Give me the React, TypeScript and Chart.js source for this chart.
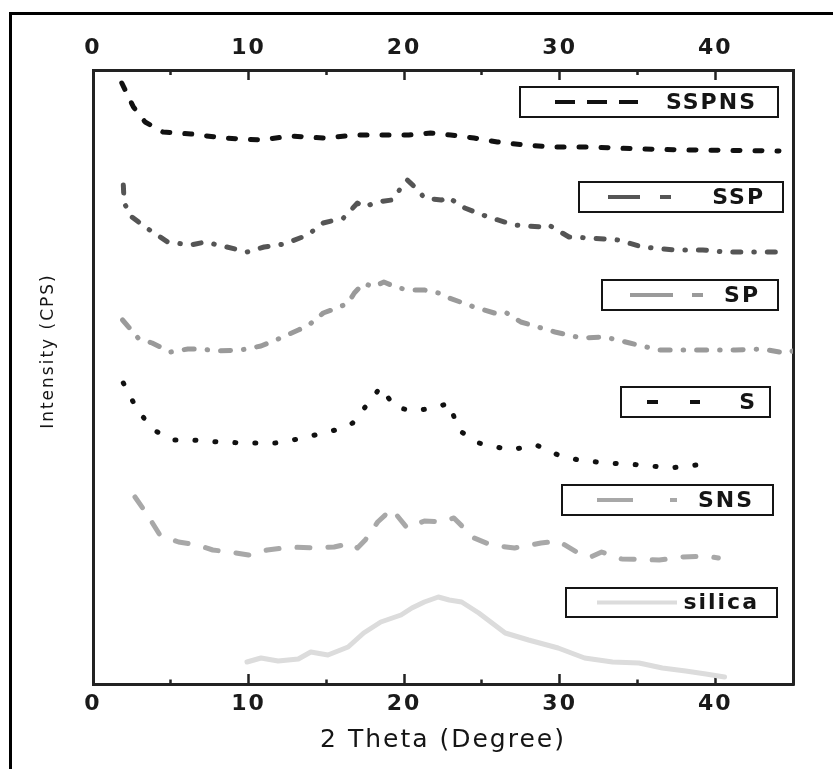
import React, { useEffect, useRef } from 'react';
import { Chart, registerables } from 'chart.js';

Chart.register(...registerables);

// ---- data (2θ in degrees, intensity in arbitrary offset units) ----
const sspnsX = [1.85, 2.6, 3.35, 4.5, 6.3, 8.4, 10.8, 12.7, 14.8, 17, 20.3, 21.7, 23, 24.5, 26, 27.8, 29.5, 32, 35.3, 38.5, 44.1];
const sspnsY = [601, 577, 562, 552, 550, 546, 544, 548, 546, 549, 549, 551, 549, 546, 542, 539, 537, 537, 535, 534, 533];

const sspX = [1.95, 2.0, 2.5, 3.35, 4.8, 6.3, 7.2, 8.6, 9.9, 11, 12.3, 13.8, 14.8, 16.1, 17, 17.4, 18.3, 19.2, 20.2, 20.9, 21.3, 22.4, 22.8, 23.9, 25.4, 27.1, 28.8, 29.3, 30.6, 32, 33.8, 35.3, 37.4, 39.2, 40.6, 42.8, 44.5];
const sspY = [499, 481, 467, 457, 442, 439, 442, 437, 432, 437, 440, 449, 461, 466, 481, 477, 482, 484, 504, 494, 486, 484, 487, 476, 467, 459, 457, 459, 447, 446, 444, 437, 434, 434, 432, 432, 432];

const spX = [1.9, 2.9, 3.8, 5, 6.1, 6.9, 8, 9.5, 10.8, 11.9, 13.2, 13.8, 14.8, 15.7, 16.4, 16.8, 17.4, 18, 18.7, 19.6, 20.5, 21.3, 22.2, 22.9, 24.5, 25.8, 26.5, 27.5, 28.6, 29.7, 31.4, 32.9, 34.5, 36.4, 37.9, 39.6, 41.3, 43, 44.5, 45];
const spY = [364, 346, 341, 332, 335, 335, 333, 334, 338, 345, 354, 358, 371, 376, 381, 391, 401, 397, 402, 396, 394, 394, 391, 386, 377, 371, 372, 362, 357, 352, 346, 347, 341, 334, 334, 334, 334, 335, 331, 333];

const sX = [1.95, 2.85, 3.9, 5.1, 6.4, 8.1, 9.8, 11.7, 13.2, 14.8, 16.1, 16.7, 17.5, 18.5, 19.4, 20.6, 21.9, 22.9, 23.5, 24.8, 26.8, 28.5, 29.9, 31.2, 33, 35.3, 37.1, 38.8];
const sY = [301, 274, 254, 244, 244, 242, 241, 241, 245, 251, 256, 261, 277, 297, 277, 273, 276, 281, 254, 241, 234, 239, 229, 224, 221, 219, 216, 219];

const snsX = [2.7, 3.5, 4.3, 5.5, 6.7, 7.7, 8.8, 10, 11.2, 12.7, 14.2, 15.5, 16.6, 17, 17.5, 18.3, 19.2, 20.2, 21.3, 22.4, 23.2, 24.5, 25.6, 27.1, 28.8, 29.9, 31.2, 32, 32.7, 34, 36.4, 37.9, 39.4, 40.2];
const snsY = [187, 169, 149, 142, 139, 134, 132, 129, 134, 137, 136, 137, 141, 136, 144, 162, 175, 156, 163, 162, 166, 146, 139, 136, 141, 143, 131, 127, 132, 125, 124, 127, 128, 126];

const silicaX = [9.9, 10.8, 11.9, 13.2, 14, 15.1, 16.4, 17.4, 18.5, 19.8, 20.5, 21.3, 22.2, 22.9, 23.7, 24.8, 26.5, 28, 29.9, 31.6, 33.4, 35.1, 36.6, 38.1, 39.4, 40.6];
const silicaY = [22, 26, 23, 25, 32, 29, 37, 51, 62, 69, 76, 82, 87, 84, 82, 71, 51, 44, 36, 26, 22, 21, 16, 13, 10, 7];

const seriesLabels = ['SSPNS', 'SSP', 'SP', 'S', 'SNS', 'silica'];
const xMin = 0;
const xMax = 45;
const xStep = 5;
const yMin = 0;
const yMax = 614;
const xTitle = '2 Theta (Degree)';
const yTitle = 'Intensity (CPS)';

// ---- legend box layout (pixels) ----
const legendLayout = [
  { box: [520, 87, 778, 117], segs: [[555, 575], [587, 607], [619, 638]], textRight: 755 },
  { box: [579, 182, 783, 212], segs: [[608, 640], [660, 671]], textRight: 763 },
  { box: [602, 280, 778, 310], segs: [[630, 673], [692, 703]], textRight: 758 },
  { box: [621, 387, 770, 417], segs: [[647, 658], [690, 700]], textRight: 755 },
  { box: [562, 485, 773, 515], segs: [[597, 633], [670, 677]], textRight: 752 },
  { box: [566, 588, 777, 617], segs: [[597, 677]], textRight: 757 },
];

const FONT = '"DejaVu Sans", "Liberation Sans", sans-serif';

const decorPlugin = {
  id: 'decor',
  beforeDraw(chart: any) {
    chart.ctx.letterSpacing = '2px';
  },
  afterDraw(chart: any) {
    const ctx = chart.ctx;
    ctx.letterSpacing = '0px';
    ctx.save();
    legendLayout.forEach((item, i) => {
      const ds = chart.data.datasets[i];
      const [x0, y0, x1, y1] = item.box;
      ctx.setLineDash([]);
      ctx.lineWidth = 2;
      ctx.strokeStyle = '#151515';
      ctx.strokeRect(x0, y0, x1 - x0, y1 - y0);
      const cy = (y0 + y1) / 2;
      ctx.strokeStyle = ds.borderColor;
      ctx.lineWidth = 4;
      ctx.lineCap = 'butt';
      item.segs.forEach(([a, b]) => {
        ctx.beginPath();
        ctx.moveTo(a, cy);
        ctx.lineTo(b, cy);
        ctx.stroke();
      });
      ctx.letterSpacing = '2px';
      ctx.fillStyle = '#151515';
      ctx.font = `bold 22px ${FONT}`;
      ctx.textAlign = 'right';
      ctx.textBaseline = 'middle';
      ctx.fillText(ds.label, item.textRight + 2, cy + 1);
    });
    ctx.restore();
    ctx.letterSpacing = '0px';
  },
};

const pts = (xs: number[], ys: number[]) => xs.map((x, i) => ({ x, y: ys[i] }));

export default function App() {
  const ref = useRef<HTMLCanvasElement>(null);

  useEffect(() => {
    Chart.defaults.font.family = FONT;
    const tickFont = { size: 22, weight: 'bold' as const, family: FONT };
    const tickCb = (v: any) => (Number(v) % 10 === 0 ? String(v) : '');
    const common = (ds: any) => ({
      pointRadius: 0,
      pointHoverRadius: 0,
      tension: 0,
      fill: false,
      borderJoinStyle: 'round',
      ...ds,
    });
    const chart = new Chart(ref.current as HTMLCanvasElement, {
      type: 'line',
      data: {
        datasets: [
          common({ label: seriesLabels[0], data: pts(sspnsX, sspnsY), borderColor: '#111111', borderWidth: 5, borderDash: [7, 15], borderCapStyle: 'round' }),
          common({ label: seriesLabels[1], data: pts(sspX, sspY), borderColor: '#555555', borderWidth: 5, borderDash: [8, 13, 0.5, 13], borderCapStyle: 'round' }),
          common({ label: seriesLabels[2], data: pts(spX, spY), borderColor: '#9a9a9a', borderWidth: 5, borderDash: [10, 13, 0.5, 13], borderCapStyle: 'round' }),
          common({ label: seriesLabels[3], data: pts(sX, sY), borderColor: '#111111', borderWidth: 5, borderDash: [1, 19], borderCapStyle: 'round' }),
          common({ label: seriesLabels[4], data: pts(snsX, snsY), borderColor: '#a8a8a8', borderWidth: 5, borderDash: [13, 18], borderCapStyle: 'round' }),
          common({ label: seriesLabels[5], data: pts(silicaX, silicaY), borderColor: '#dcdcdc', borderWidth: 5, borderCapStyle: 'round' }),
        ],
      },
      options: {
        animation: false,
        responsive: true,
        maintainAspectRatio: false,
        layout: { padding: 0 },
        plugins: { legend: { display: false }, tooltip: { enabled: false }, title: { display: false } },
        events: [],
        scales: {
          x: {
            type: 'linear',
            position: 'bottom',
            min: xMin,
            max: xMax,
            afterFit: (s: any) => { s.height = 85; },
            ticks: { stepSize: xStep, autoSkip: false, maxRotation: 0, callback: tickCb, font: tickFont, color: '#1a1a1a', padding: 17 },
            grid: {
              drawOnChartArea: false,
              drawTicks: true,
              tickLength: -10,
              tickWidth: 2.5,
              tickColor: '#222222',
              tickBorderDash: (c: any) => (c.tick && c.tick.value % 10 !== 0 ? [6.5, 100] : []),
            },
            border: { display: true, color: '#222222', width: 3 },
            title: { display: true, text: xTitle, font: { size: 25, family: FONT }, color: '#151515', padding: { top: 0, bottom: 14 } },
          },
          xTop: {
            type: 'linear',
            position: 'top',
            min: xMin,
            max: xMax,
            afterFit: (s: any) => { s.height = 70; },
            ticks: { stepSize: xStep, autoSkip: false, maxRotation: 0, callback: tickCb, font: tickFont, color: '#1a1a1a', padding: 19 },
            grid: {
              drawOnChartArea: false,
              drawTicks: true,
              tickLength: -10,
              tickWidth: 2.5,
              tickColor: '#222222',
              tickBorderDash: (c: any) => (c.tick && c.tick.value % 10 !== 0 ? [0, 5, 12, 100] : []),
            },
            border: { display: true, color: '#222222', width: 3 },
          },
          y: {
            type: 'linear',
            position: 'left',
            min: yMin,
            max: yMax,
            afterFit: (s: any) => { s.width = 93; },
            ticks: { display: false },
            grid: { drawOnChartArea: false, drawTicks: false },
            border: { display: true, color: '#222222', width: 3 },
            title: { display: true, text: '       ' + yTitle, font: { size: 17, family: FONT }, color: '#151515', padding: { top: 38, bottom: 0 } },
          },
          y2: {
            type: 'linear',
            position: 'right',
            min: yMin,
            max: yMax,
            afterFit: (s: any) => { s.width = 40; },
            ticks: { display: false },
            grid: { drawOnChartArea: false, drawTicks: false },
            border: { display: true, color: '#222222', width: 3 },
          },
        },
      } as any,
      plugins: [decorPlugin],
    });
    return () => chart.destroy();
  }, []);

  return (
    <div style={{ position: 'fixed', left: 0, top: 0, width: 833, height: 769, background: '#ffffff' }}>
      <div
        style={{
          position: 'absolute',
          left: 9,
          top: 12,
          right: 0,
          bottom: 0,
          borderTop: '3px solid #000',
          borderLeft: '3px solid #000',
          pointerEvents: 'none',
        }}
      />
      <canvas ref={ref} />
    </div>
  );
}
